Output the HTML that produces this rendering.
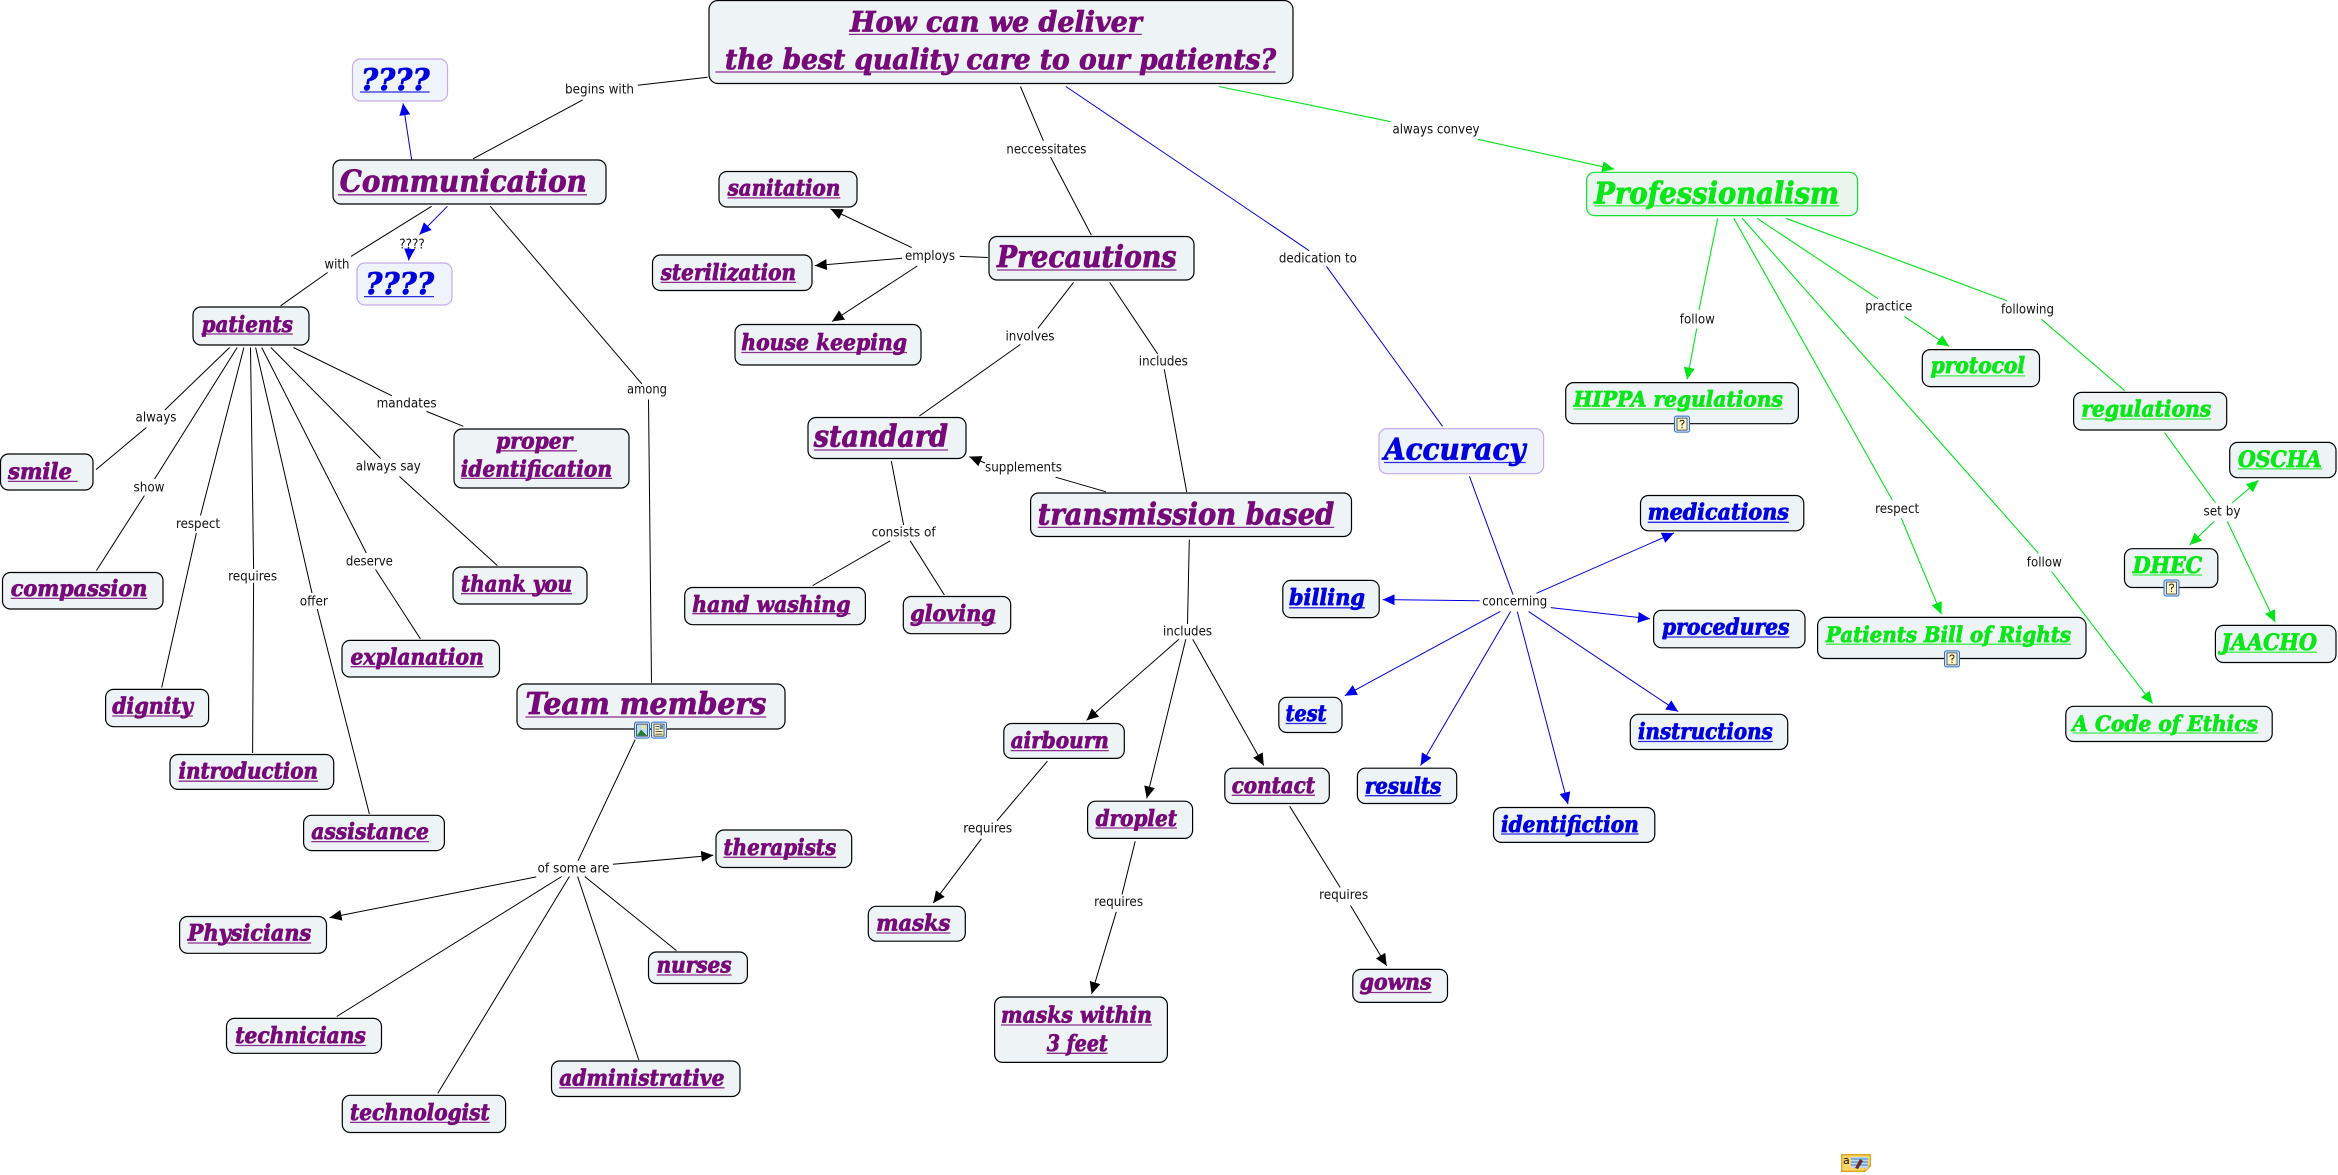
<!DOCTYPE html>
<html><head><meta charset="utf-8"><title>How can we deliver the best quality care</title>
<style>
html,body{margin:0;padding:0;background:#fff;width:2338px;height:1175px;overflow:hidden}
svg{display:block}
.b rect{fill:#eef3f6;stroke:#000;stroke-width:1.2}
.lk path{fill:none;stroke:#000;stroke-width:1}
.lb path{fill:none;stroke:#0000d8;stroke-width:1}
.lg path{fill:none;stroke:#00e51a;stroke-width:1.1}
.l text{font:13px "DejaVu Sans",sans-serif;fill:#111;text-anchor:middle}
.t text{font-family:"DejaVu Serif","Liberation Serif",serif;font-weight:bold;font-style:italic;font-size:22px;stroke-width:.8;stroke-linejoin:round}
.p text{fill:#760a78;stroke:#760a78}.p path{stroke:#8a2f8c;stroke-width:1.3;fill:none}
.u text{fill:#0000dc;stroke:#0000dc}.u path{stroke:#2a2ae0;stroke-width:1.3;fill:none}
.g text{fill:#0ae61a;stroke:#0ae61a}.g path{stroke:#40ec50;stroke-width:1.3;fill:none}
</style></head><body>
<svg xmlns="http://www.w3.org/2000/svg" width="2338" height="1175" viewBox="0 0 2338 1175">
<defs>
<marker id="ak" markerUnits="userSpaceOnUse" markerWidth="14" markerHeight="12" refX="12" refY="5.5" orient="auto"><path d="M0,0L12,5.5L0,11z" fill="#000"/></marker>
<marker id="ab" markerUnits="userSpaceOnUse" markerWidth="14" markerHeight="12" refX="12" refY="5.5" orient="auto"><path d="M0,0L12,5.5L0,11z" fill="#0000e6"/></marker>
<marker id="ag" markerUnits="userSpaceOnUse" markerWidth="14" markerHeight="12" refX="12" refY="5.5" orient="auto"><path d="M0,0L12,5.5L0,11z" fill="#00e51a"/></marker>
</defs>

<g class="lk">
<path d="M707.6 77.3L637.8 85.3M582.7 99.9L473 158.8"/>
<path d="M431.6 206.3L351 256.4M327.6 272.5L280.6 305.8"/>
<path d="M490.3 206.3L641.8 383.8M648.5 399.5L651.5 682.7"/>
<path d="M229.6 347.5L164.8 410M146.4 427.5L96 469.6"/>
<path d="M237.2 347.5L154.6 479M144.4 495.6L96.4 570.6"/>
<path d="M243.9 347.5L200.5 515.5M196.4 533L161.7 687.5"/>
<path d="M250.5 347.5L253.6 569M253.6 582.7L252.6 753"/>
<path d="M255.6 347.5L312 593M317.3 609L369.4 814"/>
<path d="M261.7 347.5L366.3 553M375.5 569.5L420.4 638.8"/>
<path d="M270.9 347.5L380.6 458.5M399.5 476.5L497.4 565.6"/>
<path d="M293.4 347.5L391.8 395.7M426.5 411.4L463.3 426.3"/>
<path d="M1020.4 86.5L1043.4 140.8M1050.5 157L1091.3 235"/>
<path d="M987.8 257.5L959.7 256.4"/>
<path d="M911.7 247.6L830.6 209" marker-end="url(#ak)"/>
<path d="M902 258.3L814.8 265.6" marker-end="url(#ak)"/>
<path d="M917.3 266L832 321.5" marker-end="url(#ak)"/>
<path d="M1073.5 282.4L1037.8 328.4M1020.4 344.4L919.4 416"/>
<path d="M1109.7 282.4L1157.7 354M1164.3 369.3L1186.7 492"/>
<path d="M1106 491.8L1055.6 477.2"/>
<path d="M985 463L969.4 456.6" marker-end="url(#ak)"/>
<path d="M891.3 461L903.6 525M890.3 540.8L812.8 585.5M910.2 540.8L944.4 595"/>
<path d="M1189.3 539.6L1187.5 624"/>
<path d="M1178.9 639.2L1086.5 720.4" marker-end="url(#ak)"/>
<path d="M1185.8 639.2L1146.7 798.4" marker-end="url(#ak)"/>
<path d="M1192.7 639.2L1263.8 765.5" marker-end="url(#ak)"/>
<path d="M1047.4 761.2L996.9 820.8"/>
<path d="M981.4 838.8L933.2 903.1" marker-end="url(#ak)"/>
<path d="M1135.2 841.2L1122 894.5"/>
<path d="M1116.3 911.8L1091.6 994" marker-end="url(#ak)"/>
<path d="M1289.7 806.3L1340.2 887.5"/>
<path d="M1350.5 905.5L1386.7 965.9" marker-end="url(#ak)"/>
<path d="M635.2 739.6L578 860.8"/>
<path d="M612.8 864.3L713.3 855.3" marker-end="url(#ak)"/>
<path d="M536.2 876.9L329.6 917.6" marker-end="url(#ak)"/>
<path d="M584.7 876.5L676.5 950.6M577.6 876.5L638.8 1060M569.4 876.5L437.8 1093.3M561.7 876.5L336.7 1016.5"/>
</g>

<g class="lb">
<path d="M411.7 160L403 103.3" marker-end="url(#ab)"/>
<path d="M447.4 206.3L419.4 234.6" marker-end="url(#ab)"/>
<path d="M409.5 250L408.7 260.6" marker-end="url(#ab)"/>
<path d="M1065.8 86.5L1309.2 250.7M1326.5 266.4L1442.5 426.3"/>
<path d="M1469.4 476.3L1513 594.6"/>
<path d="M1536.4 593.3L1674 533" marker-end="url(#ab)"/>
<path d="M1550.8 607.6L1650 618.8" marker-end="url(#ab)"/>
<path d="M1528.6 611.6L1678.2 711.6" marker-end="url(#ab)"/>
<path d="M1517.3 611.6L1568 804.3" marker-end="url(#ab)"/>
<path d="M1510.7 611.4L1420.6 765.5" marker-end="url(#ab)"/>
<path d="M1500.3 611.4L1344.8 695.7" marker-end="url(#ab)"/>
<path d="M1479.7 600.8L1382.7 599.6" marker-end="url(#ab)"/>
</g>

<g class="lg">
<path d="M1218.9 86.5L1390.8 121.7"/>
<path d="M1477.8 139.3L1614.2 169.2" marker-end="url(#ag)"/>
<path d="M1717.7 218.3L1699 309.8"/>
<path d="M1696.7 328.6L1687.1 379.5" marker-end="url(#ag)"/>
<path d="M1733.8 218.3L1892.3 500"/>
<path d="M1901.3 518.3L1941.4 614.3" marker-end="url(#ag)"/>
<path d="M1742.2 218.3L2038.3 553.1"/>
<path d="M2051.5 571.4L2152.6 703.6" marker-end="url(#ag)"/>
<path d="M1757.1 218.3L1878 298.7"/>
<path d="M1904.3 316.5L1949.2 346.4" marker-end="url(#ag)"/>
<path d="M1785.9 218.3L2007.2 300.9M2041.3 319.2L2125 391"/>
<path d="M2164.5 432.6L2215.4 502.7"/>
<path d="M2232.1 503L2258.5 480.4" marker-end="url(#ag)"/>
<path d="M2214.2 521.4L2189.7 545" marker-end="url(#ag)"/>
<path d="M2227.3 521.4L2275.2 622.3" marker-end="url(#ag)"/>
</g>

<g class="b">
<rect x="709" y="0.5" width="584" height="83" rx="9"/>
<rect x="333" y="160" width="273" height="44" rx="8"/>
<rect x="193" y="307" width="116" height="38" rx="8"/>
<rect x="0.5" y="454" width="92.5" height="36" rx="8"/>
<rect x="454" y="429" width="175" height="59" rx="8"/>
<rect x="453" y="567" width="134" height="37" rx="8"/>
<rect x="2.5" y="572.5" width="160.5" height="36.5" rx="8"/>
<rect x="105.6" y="689.4" width="103" height="37.3" rx="8"/>
<rect x="342" y="640.4" width="157.5" height="36.6" rx="8"/>
<rect x="170" y="754.5" width="163.7" height="34.9" rx="8"/>
<rect x="303.6" y="815.3" width="140.8" height="35.3" rx="8"/>
<rect x="517" y="684" width="268" height="45" rx="8"/>
<rect x="179.6" y="916.5" width="146.9" height="36.8" rx="8"/>
<rect x="226.5" y="1018.4" width="155" height="34.9" rx="8"/>
<rect x="342.3" y="1095.3" width="163.3" height="37.2" rx="8"/>
<rect x="551.5" y="1061" width="188.5" height="35.5" rx="8"/>
<rect x="648.5" y="952" width="98.9" height="31.5" rx="8"/>
<rect x="716" y="830" width="135.7" height="37.5" rx="8"/>
<rect x="684.7" y="587.5" width="180.7" height="37.2" rx="8"/>
<rect x="903.3" y="596.5" width="107.4" height="37.2" rx="8"/>
<rect x="719" y="171.5" width="138" height="35.5" rx="8"/>
<rect x="652.5" y="255" width="159.5" height="35.5" rx="8"/>
<rect x="735" y="324.5" width="186" height="40.5" rx="8"/>
<rect x="989" y="236.5" width="205" height="43.5" rx="8"/>
<rect x="808" y="417.5" width="158" height="41" rx="8"/>
<rect x="1030.6" y="493" width="320.9" height="43.5" rx="8"/>
<rect x="1003.8" y="723.5" width="120.5" height="34.9" rx="8"/>
<rect x="1087.6" y="801.2" width="105" height="37.2" rx="8"/>
<rect x="1224.8" y="768.2" width="104.5" height="35.3" rx="8"/>
<rect x="868.3" y="906.3" width="97" height="34.9" rx="8"/>
<rect x="994.6" y="997" width="172.8" height="65.4" rx="8"/>
<rect x="1352.8" y="969.4" width="94.7" height="33" rx="8"/>
<rect x="1282.8" y="580.4" width="96.4" height="37.2" rx="8"/>
<rect x="1278.8" y="697.3" width="63.2" height="35.2" rx="8"/>
<rect x="1357.4" y="768.2" width="99.3" height="35.3" rx="8"/>
<rect x="1493.5" y="807.5" width="161.3" height="34.9" rx="8"/>
<rect x="1640.5" y="495.5" width="163.3" height="35.3" rx="8"/>
<rect x="1653.6" y="610.3" width="151.4" height="37.5" rx="8"/>
<rect x="1630.3" y="714.3" width="157.4" height="35.2" rx="8"/>
<rect x="1565.7" y="382.6" width="232.7" height="41.1" rx="8"/>
<rect x="1922.3" y="349.6" width="117.2" height="37" rx="8"/>
<rect x="2073.6" y="392.4" width="153.1" height="37.6" rx="8"/>
<rect x="2229.7" y="442.4" width="106.3" height="35.3" rx="8"/>
<rect x="2124.5" y="548.7" width="93.3" height="38.8" rx="8"/>
<rect x="2215.4" y="625.4" width="120.6" height="37.1" rx="8"/>
<rect x="1817.6" y="617.4" width="268.4" height="41.1" rx="8"/>
<rect x="2065.8" y="706.3" width="206.4" height="35.2" rx="8"/>
<rect x="352.5" y="59" width="95" height="42" rx="8" style="stroke:#c5ace6;fill:#eef4f9"/>
<rect x="357" y="263" width="95" height="42" rx="8" style="stroke:#c5ace6;fill:#eef4f9"/>
<rect x="1379" y="428.6" width="164.6" height="45.1" rx="8" style="stroke:#c5ace6;fill:#eef2f9"/>
<rect x="1586.6" y="172.3" width="271" height="43.3" rx="8" style="stroke:#10e030;fill:#eaf5ee"/>
</g>

<g class="l">
<text x="599.5" y="93.5" textLength="69" lengthAdjust="spacingAndGlyphs">begins with</text>
<text x="156" y="421.5" textLength="41" lengthAdjust="spacingAndGlyphs">always</text>
<text x="149" y="491.5" textLength="31" lengthAdjust="spacingAndGlyphs">show</text>
<text x="198" y="528" textLength="44" lengthAdjust="spacingAndGlyphs">respect</text>
<text x="252.6" y="580.5" textLength="49" lengthAdjust="spacingAndGlyphs">requires</text>
<text x="313.8" y="605.5" textLength="28" lengthAdjust="spacingAndGlyphs">offer</text>
<text x="369.4" y="565.5" textLength="47" lengthAdjust="spacingAndGlyphs">deserve</text>
<text x="388.3" y="470.5" textLength="65" lengthAdjust="spacingAndGlyphs">always say</text>
<text x="406.6" y="407.5" textLength="60" lengthAdjust="spacingAndGlyphs">mandates</text>
<text x="337" y="268.5" textLength="25" lengthAdjust="spacingAndGlyphs">with</text>
<text x="412" y="248.3" textLength="25.5" lengthAdjust="spacingAndGlyphs">????</text>
<text x="647" y="393.3" textLength="40" lengthAdjust="spacingAndGlyphs">among</text>
<text x="1046.4" y="153.4" textLength="80" lengthAdjust="spacingAndGlyphs">neccessitates</text>
<text x="1317.9" y="262.5" textLength="78" lengthAdjust="spacingAndGlyphs">dedication to</text>
<text x="1436" y="133.5" textLength="87" lengthAdjust="spacingAndGlyphs">always convey</text>
<text x="930" y="259.8" textLength="50" lengthAdjust="spacingAndGlyphs">employs</text>
<text x="1030" y="340.5" textLength="49" lengthAdjust="spacingAndGlyphs">involves</text>
<text x="1163.3" y="365.4" textLength="49" lengthAdjust="spacingAndGlyphs">includes</text>
<text x="1023.5" y="471.4" textLength="77" lengthAdjust="spacingAndGlyphs">supplements</text>
<text x="903.6" y="536.5" textLength="64" lengthAdjust="spacingAndGlyphs">consists of</text>
<text x="1187.5" y="635.5" textLength="49" lengthAdjust="spacingAndGlyphs">includes</text>
<text x="987.7" y="832.3" textLength="49" lengthAdjust="spacingAndGlyphs">requires</text>
<text x="1118.6" y="906.1" textLength="49" lengthAdjust="spacingAndGlyphs">requires</text>
<text x="1343.6" y="899" textLength="49" lengthAdjust="spacingAndGlyphs">requires</text>
<text x="1697.3" y="323.3" textLength="35" lengthAdjust="spacingAndGlyphs">follow</text>
<text x="1897.1" y="513" textLength="44" lengthAdjust="spacingAndGlyphs">respect</text>
<text x="2044.3" y="566.5" textLength="35" lengthAdjust="spacingAndGlyphs">follow</text>
<text x="1888.8" y="310.3" textLength="47" lengthAdjust="spacingAndGlyphs">practice</text>
<text x="2027.5" y="313.4" textLength="53" lengthAdjust="spacingAndGlyphs">following</text>
<text x="2222" y="515.7" textLength="37" lengthAdjust="spacingAndGlyphs">set by</text>
<text x="1514.7" y="605.3" textLength="65" lengthAdjust="spacingAndGlyphs">concerning</text>
<text x="573.5" y="872.7" textLength="72" lengthAdjust="spacingAndGlyphs">of some are</text>
</g>

<g class="t p">
<path d="M849 34.4H1141.8M715.3 72H1275.5M338 194.8H587M201 334H292.9M8 481.4H77.6M496 450.8H577M460.7 478.4H612M10.7 598.4H147.4M461 593.7H572M112.2 716H192.9M350.5 666.7H483.7M178.6 781.2H317.9M311.2 841.6H429M525.5 717H766.3M187.8 943H311.2M235.2 1045.5H365.8M350 1122.4H489.8M559.2 1087.8H724.5M656.6 975H731.6M723.5 857.3H836.2M692.3 613.7H850.5M910.2 623H995.8M727.6 197.9H840.3M660.7 282.4H796M741.3 352.5H907M997 270H1176.5M813.8 450H948M1037.8 527.4H1334.2M1010.7 750.6H1108.8M1095.6 828H1177M1231.7 795.3H1315M876.3 933H950.4M1001 1025H1152M1046.8 1053.3H1107.7M1359.7 992.5H1431.5"/>
<text x="850" y="31.4" textLength="292" lengthAdjust="spacingAndGlyphs" style="font-size:28px">How can we deliver</text>
<text x="725" y="69" textLength="551" lengthAdjust="spacingAndGlyphs" style="font-size:28px">the best quality care to our patients?</text>
<text x="339.8" y="191.3" textLength="247" lengthAdjust="spacingAndGlyphs" style="font-size:30px">Communication</text>
<text x="201.5" y="331.8" textLength="91.4" lengthAdjust="spacingAndGlyphs">patients</text>
<text x="8" y="479" textLength="64" lengthAdjust="spacingAndGlyphs">smile</text>
<text x="496" y="448.5" textLength="76.4" lengthAdjust="spacingAndGlyphs">proper</text>
<text x="460.7" y="476.5" textLength="151.3" lengthAdjust="spacingAndGlyphs">identification</text>
<text x="10.7" y="596" textLength="136.7" lengthAdjust="spacingAndGlyphs">compassion</text>
<text x="461" y="591.4" textLength="111" lengthAdjust="spacingAndGlyphs">thank you</text>
<text x="112.2" y="713.7" textLength="80.7" lengthAdjust="spacingAndGlyphs">dignity</text>
<text x="350.5" y="664.3" textLength="133.2" lengthAdjust="spacingAndGlyphs">explanation</text>
<text x="178.6" y="778.4" textLength="139.3" lengthAdjust="spacingAndGlyphs">introduction</text>
<text x="311.2" y="839.2" textLength="117.8" lengthAdjust="spacingAndGlyphs">assistance</text>
<text x="525.5" y="714" textLength="240.8" lengthAdjust="spacingAndGlyphs" style="font-size:30px">Team members</text>
<text x="187.8" y="940.4" textLength="123.4" lengthAdjust="spacingAndGlyphs">Physicians</text>
<text x="235.2" y="1043" textLength="130.6" lengthAdjust="spacingAndGlyphs">technicians</text>
<text x="350" y="1120" textLength="139.8" lengthAdjust="spacingAndGlyphs">technologist</text>
<text x="559.2" y="1085.5" textLength="165.3" lengthAdjust="spacingAndGlyphs">administrative</text>
<text x="656.6" y="972.5" textLength="75" lengthAdjust="spacingAndGlyphs">nurses</text>
<text x="723.5" y="855" textLength="112.7" lengthAdjust="spacingAndGlyphs">therapists</text>
<text x="692.3" y="611.8" textLength="158.2" lengthAdjust="spacingAndGlyphs">hand washing</text>
<text x="910.2" y="620.8" textLength="85.6" lengthAdjust="spacingAndGlyphs">gloving</text>
<text x="727.6" y="195.6" textLength="112.7" lengthAdjust="spacingAndGlyphs">sanitation</text>
<text x="660.7" y="280" textLength="135.3" lengthAdjust="spacingAndGlyphs">sterilization</text>
<text x="741.3" y="349.8" textLength="165.7" lengthAdjust="spacingAndGlyphs">house keeping</text>
<text x="997" y="267" textLength="179.5" lengthAdjust="spacingAndGlyphs" style="font-size:30px">Precautions</text>
<text x="813.8" y="446.6" textLength="134.2" lengthAdjust="spacingAndGlyphs" style="font-size:30px">standard</text>
<text x="1037.8" y="524.3" textLength="296.4" lengthAdjust="spacingAndGlyphs" style="font-size:30px">transmission based</text>
<text x="1010.7" y="748.2" textLength="98.1" lengthAdjust="spacingAndGlyphs">airbourn</text>
<text x="1095.6" y="825.9" textLength="81.4" lengthAdjust="spacingAndGlyphs">droplet</text>
<text x="1231.7" y="793" textLength="83.3" lengthAdjust="spacingAndGlyphs">contact</text>
<text x="876.3" y="930.6" textLength="74.1" lengthAdjust="spacingAndGlyphs">masks</text>
<text x="1001" y="1022.7" textLength="151" lengthAdjust="spacingAndGlyphs">masks within</text>
<text x="1046.8" y="1051" textLength="60.9" lengthAdjust="spacingAndGlyphs">3 feet</text>
<text x="1359.7" y="989.4" textLength="71.8" lengthAdjust="spacingAndGlyphs">gowns</text>
</g>

<g class="t u">
<path d="M360 92H429.6M364 296.6H434M1289 607.8H1364.9M1285.6 723.5H1326.4M1364.9 795.7H1441.2M1501 834H1638.7M1384 462.5H1525.6M1647.7 522.3H1788.9M1662 637H1789.4M1638 741.5H1772.7"/>
<text x="361" y="90" textLength="68.6" lengthAdjust="spacingAndGlyphs" style="font-size:30px">????</text>
<text x="365.3" y="294" textLength="68.7" lengthAdjust="spacingAndGlyphs" style="font-size:30px">????</text>
<text x="1289" y="605" textLength="75.9" lengthAdjust="spacingAndGlyphs">billing</text>
<text x="1285.6" y="720.8" textLength="40.8" lengthAdjust="spacingAndGlyphs">test</text>
<text x="1364.9" y="793.3" textLength="76.3" lengthAdjust="spacingAndGlyphs">results</text>
<text x="1501" y="831.8" textLength="137.7" lengthAdjust="spacingAndGlyphs">identifiction</text>
<text x="1384" y="459.4" textLength="141.6" lengthAdjust="spacingAndGlyphs" style="font-size:30px">Accuracy</text>
<text x="1647.7" y="519.6" textLength="141.2" lengthAdjust="spacingAndGlyphs">medications</text>
<text x="1662" y="634.4" textLength="127.4" lengthAdjust="spacingAndGlyphs">procedures</text>
<text x="1638" y="738.8" textLength="134.7" lengthAdjust="spacingAndGlyphs">instructions</text>
</g>

<g class="t g">
<path d="M1594.4 205.8H1839M1573.5 409H1782.9M1930.6 375.9H2025M2081.4 419H2211.2M2238 468.8H2321.9M2132.8 575H2202.2M2221.4 652.2H2317M1826 644.2H2071M2072.4 733H2257.9"/>
<text x="1594.4" y="203.6" textLength="244.6" lengthAdjust="spacingAndGlyphs" style="font-size:30px">Professionalism</text>
<text x="1573.5" y="406.7" textLength="209.4" lengthAdjust="spacingAndGlyphs" style="font-size:21px">HIPPA regulations</text>
<text x="1930.6" y="373" textLength="94.4" lengthAdjust="spacingAndGlyphs">protocol</text>
<text x="2081.4" y="416.5" textLength="129.8" lengthAdjust="spacingAndGlyphs">regulations</text>
<text x="2238" y="467" textLength="83.9" lengthAdjust="spacingAndGlyphs">OSCHA</text>
<text x="2132.8" y="572.8" textLength="69.4" lengthAdjust="spacingAndGlyphs">DHEC</text>
<text x="2221.4" y="650" textLength="95.6" lengthAdjust="spacingAndGlyphs">JAACHO</text>
<text x="1826" y="642" textLength="245" lengthAdjust="spacingAndGlyphs" style="font-size:21px">Patients Bill of Rights</text>
<text x="2072.4" y="730.8" textLength="185.5" lengthAdjust="spacingAndGlyphs" style="font-size:21px">A Code of Ethics</text>
</g>

<!-- resource icons -->
<g>
<g transform="translate(634,721.6)"><rect x="0.5" y="0.5" width="15" height="16" rx="2" fill="#dbe8fa" stroke="#2a6fd0"/><rect x="2.5" y="2.5" width="11" height="12" fill="#b8dcf2" stroke="#222" stroke-width=".7"/><path d="M3 14L7 8L13 14z" fill="#1f7a2f"/><circle cx="9.5" cy="5.5" r="1.8" fill="#ffe680"/></g>
<g transform="translate(651,721.6)"><rect x="0.5" y="0.5" width="15" height="16" rx="2" fill="#dbe8fa" stroke="#2a6fd0"/><rect x="3" y="2.5" width="10" height="12" fill="#fff6c8" stroke="#222" stroke-width=".7"/><path d="M4.5 5H8M4.5 7.5H8M4.5 10H11.5M4.5 12.5H11.5" stroke="#222" stroke-width=".8"/><rect x="8.5" y="3.5" width="3.5" height="4" fill="#5a88b8"/></g>
<g transform="translate(1674,415.6)"><rect x="0.5" y="0.5" width="15" height="16" rx="2" fill="#dbe8fa" stroke="#2a6fd0"/><rect x="3" y="2.5" width="10" height="12" fill="#fff6c8" stroke="#222" stroke-width=".7"/><path d="M6 6.2Q6 4.6 8 4.6Q10 4.6 10 6.2Q10 7.6 8 8.4V10M8 11.2V12.6" fill="none" stroke="#222"/></g>
<g transform="translate(1944,650.4)"><rect x="0.5" y="0.5" width="15" height="16" rx="2" fill="#dbe8fa" stroke="#2a6fd0"/><rect x="3" y="2.5" width="10" height="12" fill="#fff6c8" stroke="#222" stroke-width=".7"/><path d="M6 6.2Q6 4.6 8 4.6Q10 4.6 10 6.2Q10 7.6 8 8.4V10M8 11.2V12.6" fill="none" stroke="#222"/></g>
<g transform="translate(2163.5,579.5)"><rect x="0.5" y="0.5" width="15" height="16" rx="2" fill="#dbe8fa" stroke="#2a6fd0"/><rect x="3" y="2.5" width="10" height="12" fill="#fff6c8" stroke="#222" stroke-width=".7"/><path d="M6 6.2Q6 4.6 8 4.6Q10 4.6 10 6.2Q10 7.6 8 8.4V10M8 11.2V12.6" fill="none" stroke="#222"/></g>
<g transform="translate(1841,1154)">
<path d="M0.7 0.7H29.3V12L24 17.3H0.7z" fill="#fbd566" stroke="#d9a520" stroke-width="1.3"/>
<path d="M24 17.3V12H29.3z" fill="#fff3c0" stroke="#d9a520"/>
<rect x="10" y="3" width="17" height="11" fill="#bcd8f0"/>
<path d="M10 5H27M10 8H27M10 11H27" stroke="#4a80c0"/>
<path d="M14 14L19 5L22 7L17 15z" fill="#6a2a2a"/>
<text x="2" y="10" font-family="'DejaVu Sans',sans-serif" font-size="11" fill="#111">a</text>
</g>
</g>
</svg>
</body></html>
